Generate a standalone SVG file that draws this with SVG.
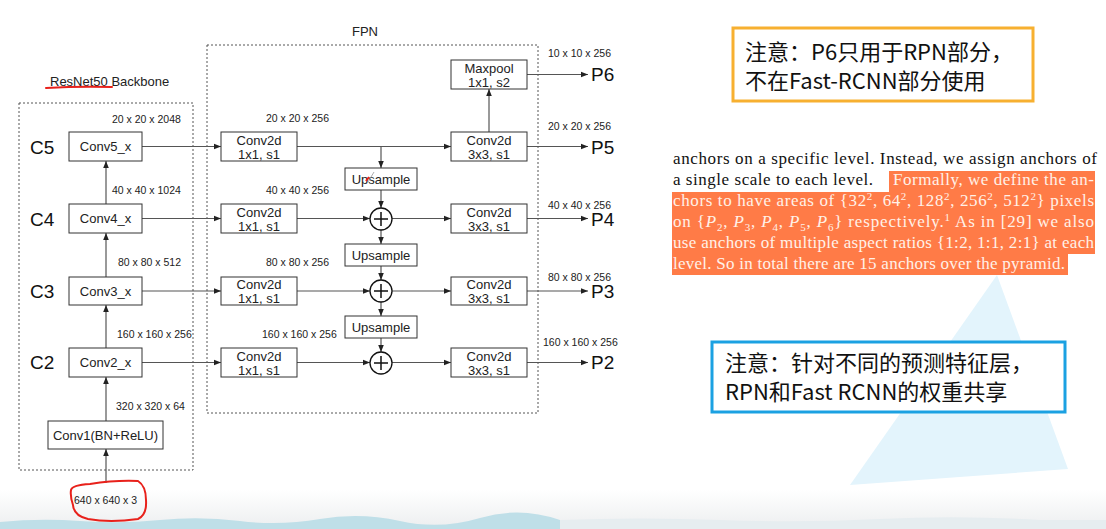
<svg xmlns="http://www.w3.org/2000/svg" width="1106" height="529" viewBox="0 0 1106 529">
<style>
.box{fill:#fff;stroke:#333;stroke-width:1}
.dash{fill:none;stroke:#555;stroke-width:1;stroke-dasharray:2,2}
.lbl{font-family:"Liberation Sans",Arial,sans-serif;font-size:13px;fill:#222;text-anchor:middle}
.dim{font-family:"Liberation Sans",Arial,sans-serif;font-size:10.5px;fill:#222}
.big{font-family:"Liberation Sans",Arial,sans-serif;font-size:19px;fill:#111}
.ttl{font-family:"Liberation Sans",Arial,sans-serif;font-size:13px;fill:#222}
.con{fill:none;stroke:#555;stroke-width:1.2;marker-end:url(#ah)}
.red{fill:none;stroke:#e8211b;stroke-width:2;stroke-linecap:round;stroke-linejoin:round}
.paper{font-family:"Liberation Serif","Times New Roman",serif;font-size:17px;fill:#111}
.hl{fill:#fff1e8}
.cjk{font-family:"Noto Sans CJK SC","Noto Sans",sans-serif;font-size:22px;fill:#111}
</style>
<defs>
<marker id="ah" viewBox="0 0 10 10" refX="10" refY="5" markerWidth="7" markerHeight="7" markerUnits="userSpaceOnUse" orient="auto">
<path d="M0,1 L10,5 L0,9 z" fill="#222"/>
</marker>
<linearGradient id="bot" x1="0" y1="0" x2="0" y2="1">
<stop offset="0" stop-color="#ffffff"/>
<stop offset="1" stop-color="#eceeef"/>
</linearGradient>
</defs>
<rect width="1106" height="529" fill="#fff"/>
<!-- background decoration -->
<rect x="0" y="490" width="1106" height="39" fill="url(#bot)"/>
<path d="M0,522 Q40,518 80,521 T160,520 T240,521 T320,519 T400,521 T480,518 T560,520 L560,529 L0,529 z" fill="#bfdfe8"/>
<path d="M560,520 Q640,517 720,520 T880,519 T1040,520 L1106,520 L1106,529 L560,529 z" fill="#e6edf0"/>
<polygon points="997,275 1068,469 850,485" fill="#e3f4fc"/>

<!-- titles -->
<text class="ttl" x="50" y="86">ResNet50 Backbone</text>
<path class="red" d="M46,88 Q80,86 112,87"/>
<text class="ttl" x="352" y="36">FPN</text>
<rect class="dash" x="19" y="103" width="174" height="367"/>
<rect class="dash" x="207" y="45" width="331" height="368"/>

<!-- connectors -->
<g id="connectors">
<line class="con" x1="106" y1="483" x2="106" y2="449"/>
<line class="con" x1="106" y1="421" x2="106" y2="377"/>
<line class="con" x1="106" y1="348" x2="106" y2="305"/>
<line class="con" x1="106" y1="277" x2="106" y2="233"/>
<line class="con" x1="106" y1="204" x2="106" y2="161"/>
<line class="con" x1="142" y1="146.5" x2="221" y2="146.5"/>
<line class="con" x1="142" y1="218.5" x2="221" y2="218.5"/>
<line class="con" x1="142" y1="291" x2="221" y2="291"/>
<line class="con" x1="142" y1="362.5" x2="221" y2="362.5"/>
<line class="con" x1="297" y1="146.5" x2="451" y2="146.5"/>
<line class="con" x1="381" y1="146.5" x2="381" y2="168"/>
<line class="con" x1="381" y1="190" x2="381" y2="208"/>
<line class="con" x1="297" y1="218.5" x2="370" y2="218.5"/>
<line class="con" x1="392" y1="218.5" x2="451" y2="218.5"/>
<line class="con" x1="381" y1="230" x2="381" y2="244"/>
<line class="con" x1="381" y1="266" x2="381" y2="280"/>
<line class="con" x1="297" y1="291" x2="370" y2="291"/>
<line class="con" x1="392" y1="291" x2="451" y2="291"/>
<line class="con" x1="381" y1="302" x2="381" y2="316"/>
<line class="con" x1="381" y1="338" x2="381" y2="352"/>
<line class="con" x1="297" y1="362.5" x2="370" y2="362.5"/>
<line class="con" x1="392" y1="362.5" x2="451" y2="362.5"/>
<line class="con" x1="489" y1="132" x2="489" y2="89"/>
<line class="con" x1="527" y1="74.5" x2="588" y2="74.5"/>
<line class="con" x1="527" y1="146.5" x2="588" y2="146.5"/>
<line class="con" x1="527" y1="218.5" x2="588" y2="218.5"/>
<line class="con" x1="527" y1="291" x2="588" y2="291"/>
<line class="con" x1="527" y1="362.5" x2="588" y2="362.5"/>
</g>

<!-- backbone nodes -->
<g id="conv5"><rect class="box" x="69" y="132" width="73" height="29"/><text class="lbl" x="105.5" y="151">Conv5_x</text></g>
<g id="conv4"><rect class="box" x="69" y="204" width="73" height="29"/><text class="lbl" x="105.5" y="223">Conv4_x</text></g>
<g id="conv3"><rect class="box" x="69" y="277" width="73" height="28"/><text class="lbl" x="105.5" y="295.5">Conv3_x</text></g>
<g id="conv2"><rect class="box" x="69" y="348" width="73" height="29"/><text class="lbl" x="105.5" y="367">Conv2_x</text></g>
<g id="conv1"><rect class="box" x="48" y="421" width="115" height="28"/><text class="lbl" x="105.5" y="439.5">Conv1(BN+ReLU)</text></g>
<g id="clabels">
<text class="big" x="30" y="154">C5</text>
<text class="big" x="30" y="226">C4</text>
<text class="big" x="30" y="298">C3</text>
<text class="big" x="30" y="369">C2</text>
</g>
<g id="bdims">
<text class="dim" x="112" y="123">20 x 20 x 2048</text>
<text class="dim" x="112" y="194">40 x 40 x 1024</text>
<text class="dim" x="118" y="266">80 x 80 x 512</text>
<text class="dim" x="117" y="338">160 x 160 x 256</text>
<text class="dim" x="116" y="410">320 x 320 x 64</text>
<text class="dim" x="74" y="504">640 x 640 x 3</text>
</g>
<path class="red" d="M71,490 Q72,485 90,484 Q115,480 138,481 Q146,486 146,500 Q147,515 138,519 Q110,523 88,519 Q74,516 73,505 Q70,496 71,490 z"/>

<!-- FPN lateral 1x1 -->
<g id="lat5"><rect class="box" x="221" y="132" width="76" height="29"/><text class="lbl" x="259" y="144.5">Conv2d</text><text class="lbl" x="259" y="158.5">1x1, s1</text></g>
<g id="lat4"><rect class="box" x="221" y="204" width="76" height="29"/><text class="lbl" x="259" y="216.5">Conv2d</text><text class="lbl" x="259" y="230.5">1x1, s1</text></g>
<g id="lat3"><rect class="box" x="221" y="277" width="76" height="28"/><text class="lbl" x="259" y="289">Conv2d</text><text class="lbl" x="259" y="303">1x1, s1</text></g>
<g id="lat2"><rect class="box" x="221" y="348" width="76" height="29"/><text class="lbl" x="259" y="360.5">Conv2d</text><text class="lbl" x="259" y="374.5">1x1, s1</text></g>
<g id="fdims">
<text class="dim" x="266" y="122">20 x 20 x 256</text>
<text class="dim" x="266" y="194">40 x 40 x 256</text>
<text class="dim" x="266" y="266">80 x 80 x 256</text>
<text class="dim" x="262" y="338">160 x 160 x 256</text>
</g>

<!-- upsample / add -->
<g id="up1"><rect class="box" x="345" y="168" width="72" height="22"/><text class="lbl" x="381" y="183.5">Upsample</text></g>
<path d="M366,181 L369,177" stroke="#e8211b" stroke-width="2" fill="none"/>
<path d="M368,182 L374,172" stroke="#999" stroke-width="0.8" fill="none"/>
<g id="up2"><rect class="box" x="345" y="244" width="72" height="22"/><text class="lbl" x="381" y="259.5">Upsample</text></g>
<g id="up3"><rect class="box" x="345" y="316" width="72" height="22"/><text class="lbl" x="381" y="331.5">Upsample</text></g>
<g id="add4"><circle cx="381" cy="219" r="11" fill="#fff" stroke="#111" stroke-width="1.3"/><path d="M374,219 H388 M381,212 V226" stroke="#111" stroke-width="1.5"/></g>
<g id="add3"><circle cx="381" cy="291" r="11" fill="#fff" stroke="#111" stroke-width="1.3"/><path d="M374,291 H388 M381,284 V298" stroke="#111" stroke-width="1.5"/></g>
<g id="add2"><circle cx="381" cy="363" r="11" fill="#fff" stroke="#111" stroke-width="1.3"/><path d="M374,363 H388 M381,356 V370" stroke="#111" stroke-width="1.5"/></g>

<!-- 3x3 and maxpool -->
<g id="maxpool"><rect class="box" x="451" y="60" width="76" height="29"/><text class="lbl" x="489" y="72.5">Maxpool</text><text class="lbl" x="489" y="86.5">1x1, s2</text></g>
<g id="out5"><rect class="box" x="451" y="132" width="76" height="29"/><text class="lbl" x="489" y="144.5">Conv2d</text><text class="lbl" x="489" y="158.5">3x3, s1</text></g>
<g id="out4"><rect class="box" x="451" y="204" width="76" height="29"/><text class="lbl" x="489" y="216.5">Conv2d</text><text class="lbl" x="489" y="230.5">3x3, s1</text></g>
<g id="out3"><rect class="box" x="451" y="277" width="76" height="28"/><text class="lbl" x="489" y="289">Conv2d</text><text class="lbl" x="489" y="303">3x3, s1</text></g>
<g id="out2"><rect class="box" x="451" y="348" width="76" height="29"/><text class="lbl" x="489" y="360.5">Conv2d</text><text class="lbl" x="489" y="374.5">3x3, s1</text></g>

<g id="plabels">
<text class="dim" x="548" y="57">10 x 10 x 256</text>
<text class="dim" x="548" y="130">20 x 20 x 256</text>
<text class="dim" x="548" y="209">40 x 40 x 256</text>
<text class="dim" x="548" y="281">80 x 80 x 256</text>
<text class="dim" x="543" y="346">160 x 160 x 256</text>
<text class="big" x="591" y="81">P6</text>
<text class="big" x="591" y="154">P5</text>
<text class="big" x="591" y="226">P4</text>
<text class="big" x="591" y="298">P3</text>
<text class="big" x="591" y="369">P2</text>
</g>

<!-- note 1 -->
<g id="note1">
<rect x="733" y="28" width="300" height="73" fill="#fff" stroke="#f7b030" stroke-width="3"/>
<text class="cjk" x="745" y="60">注意：P6只用于RPN部分，</text>
<text class="cjk" x="745" y="89">不在Fast-RCNN部分使用</text>
</g>

<!-- paper excerpt -->
<g id="paper">
<path d="M889,171 H1095 V254 H1068 V275 H672 V192 H889 z" fill="#ff7b47"/>
<text class="paper" x="673" y="164" textLength="424" lengthAdjust="spacing">anchors on a specific level. Instead, we assign anchors of</text>
<text class="paper" x="673" y="185" textLength="200" lengthAdjust="spacing">a single scale to each level.</text>
<text class="paper hl" x="893" y="185" textLength="201" lengthAdjust="spacing">Formally, we define the an-</text>
<text class="paper hl" x="673" y="206" textLength="421" lengthAdjust="spacing">chors to have areas of {32<tspan dy="-6" font-size="11">2</tspan><tspan dy="6">, 64</tspan><tspan dy="-6" font-size="11">2</tspan><tspan dy="6">, 128</tspan><tspan dy="-6" font-size="11">2</tspan><tspan dy="6">, 256</tspan><tspan dy="-6" font-size="11">2</tspan><tspan dy="6">, 512</tspan><tspan dy="-6" font-size="11">2</tspan><tspan dy="6">} pixels</tspan></text>
<text class="paper hl" x="673" y="227" textLength="421" lengthAdjust="spacing">on {<tspan font-style="italic">P</tspan><tspan dy="4" font-size="11">2</tspan><tspan dy="-4">, </tspan><tspan font-style="italic">P</tspan><tspan dy="4" font-size="11">3</tspan><tspan dy="-4">, </tspan><tspan font-style="italic">P</tspan><tspan dy="4" font-size="11">4</tspan><tspan dy="-4">, </tspan><tspan font-style="italic">P</tspan><tspan dy="4" font-size="11">5</tspan><tspan dy="-4">, </tspan><tspan font-style="italic">P</tspan><tspan dy="4" font-size="11">6</tspan><tspan dy="-4">} respectively.</tspan><tspan dy="-6" font-size="11">1</tspan><tspan dy="6">  As in [29] we also</tspan></text>
<text class="paper hl" x="673" y="248" textLength="421" lengthAdjust="spacing">use anchors of multiple aspect ratios {1:2, 1:1, 2:1} at each</text>
<text class="paper hl" x="673" y="269" textLength="392" lengthAdjust="spacing">level. So in total there are 15 anchors over the pyramid.</text>
</g>

<!-- note 2 -->
<g id="note2">
<rect x="712" y="342" width="353" height="70" fill="#fff" stroke="#1ba1e2" stroke-width="3"/>
<text class="cjk" x="725" y="371">注意：针对不同的预测特征层，</text>
<text class="cjk" x="725" y="400">RPN和Fast RCNN的权重共享</text>
</g>
</svg>
